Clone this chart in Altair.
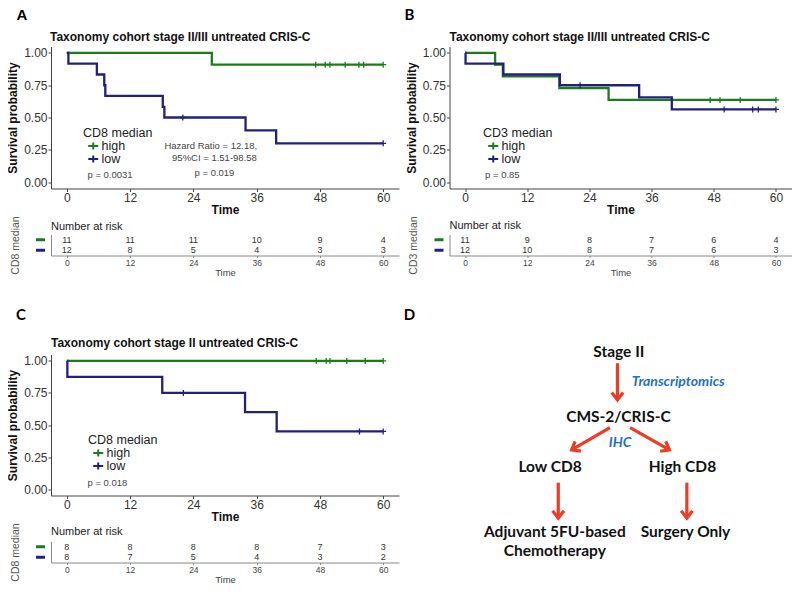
import math
import altair as alt
import pandas as pd

GREEN = "#1c7c1c"
BLUE = "#20207e"
RED = "#EE3B24"
NOTE_BLUE = "#1f6fc5"
GROUPS = ["high", "low"]
RISK_TIMES = [0, 12, 24, 36, 48, 60]
SURV_TICKS = [0, 0.25, 0.5, 0.75, 1]
FONT = "Liberation Sans"
DFONT = "Lato"

# ---------------- Panel A (CD8, stage II/III) ----------------
a_high_t = [0, 27.5]
a_high_s = [1.0, 0.909]
a_high_c = [47.2, 49.0, 49.9, 52.8, 55.4, 56.3, 60]
a_low_t = [0, 0.3, 5.7, 7.1, 7.3, 18.2, 18.5, 33.9, 39.7]
a_low_s = [1.0, 0.917, 0.833, 0.75, 0.667, 0.583, 0.5, 0.4, 0.3]
a_low_c = [22.0, 60]
a_risk_high = [11, 11, 11, 10, 9, 4]
a_risk_low = [12, 8, 5, 4, 3, 3]
a_notes = ["p = 0.0031", "Hazard Ratio = 12.18,", " 95%CI = 1.51-98.58", "p = 0.019"]
a_notes_t = [8.2, 27.3, 28.0, 28.0]
a_notes_s = [0.054, 0.279, 0.186, 0.07]

# ---------------- Panel B (CD3, stage II/III) ----------------
b_high_t = [0, 5.8, 7.3, 18.2, 27.7]
b_high_s = [1.0, 0.909, 0.818, 0.727, 0.636]
b_high_c = [47.3, 49.2, 53.1, 60]
b_low_t = [0, 0.1, 7.4, 18.3, 33.6, 39.9]
b_low_s = [1.0, 0.917, 0.833, 0.75, 0.656, 0.5625]
b_low_c = [22.2, 50.0, 55.5, 56.6, 60]
b_risk_high = [11, 9, 8, 7, 6, 4]
b_risk_low = [12, 10, 8, 7, 6, 3]
b_notes = ["p = 0.85"]
b_notes_t = [7.2]
b_notes_s = [0.054]

# ---------------- Panel C (CD8, stage II) ----------------
c_high_t = [0]
c_high_s = [1.0]
c_high_c = [47.3, 49.2, 49.9, 53.1, 56.6, 60]
c_low_t = [0, 0.1, 18.1, 33.8, 39.8]
c_low_s = [1.0, 0.875, 0.75, 0.6, 0.45]
c_low_c = [22.1, 55.5, 60]
c_risk_high = [8, 8, 8, 8, 7, 3]
c_risk_low = [8, 7, 5, 4, 3, 2]
c_notes = ["p = 0.018"]
c_notes_t = [7.7]
c_notes_s = [0.049]

# ---------------- Panel D (flow chart, layout units 0-100) ----------------
d_nodes = ["Stage II", "CMS-2/CRIS-C", "Low CD8", "High CD8",
           "Adjuvant 5FU-based", "Chemotherapy", "Surgery Only"]
d_nodes_x = [49.5, 49.4, 29.4, 68.1, 30.8, 30.8, 69.0]
d_nodes_y = [-1.8, 44.0, 80.1, 80.1, 125.6, 139.1, 125.6]
d_notes = ["Transcriptomics", "IHC"]
d_notes_x = [53.3, 49.9]
d_notes_y = [19.2, 62.7]
d_notes_align = ["left", "center"]
d_arrow_x1 = [49.1, 46.9, 52.8, 31.8, 69.4]
d_arrow_y1 = [6.2, 51.8, 51.8, 90.9, 90.9]
d_arrow_x2 = [49.1, 35.7, 64.3, 31.8, 69.4]
d_arrow_y2 = [32.2, 67.7, 67.7, 116.1, 116.1]

KM_W_A, KM_W_B, KM_H = 348, 342, 142
RISK_H = 21
PLUS = "M-1,0L1,0M0,-1L0,1"
HEAD = "M-1,-1.3L0,0L1,-1.3"


def step_value(ts, ss, c):
    v = ss[0]
    for t, s in zip(ts, ss):
        if t <= c:
            v = s
    return v


def label_layer(text, x, y, size, weight, font, color="#111", align="left"):
    return alt.Chart(pd.DataFrame({"l": [text]})).mark_text(
        fontSize=size, fontWeight=weight, font=font, color=color, align=align,
        baseline="middle").encode(x=alt.value(x), y=alt.value(y), text="l:N")


def km_chart(curves, notes, notes_t, notes_s, title, title_pos, legend_title, letter,
             letter_font, letter_pos, legend_pos, width, height):
    line_rows, cens_rows = [], []
    for g, (ts, ss, cs) in zip(GROUPS, curves):
        for t, s in zip(ts, ss):
            line_rows.append({"t": t, "s": s, "group": g})
        line_rows.append({"t": 60, "s": ss[-1], "group": g})
        for c in cs:
            cens_rows.append({"t": c, "s": step_value(ts, ss, c), "group": g})
    line_df = pd.DataFrame(line_rows)
    cens_df = pd.DataFrame(cens_rows)
    notes_df = pd.DataFrame({"t": notes_t, "s": notes_s, "label": notes})

    xscale = alt.Scale(domain=[-3, 63], nice=False, zero=False)
    yscale = alt.Scale(domain=[-0.05, 1.05], nice=False, zero=False)
    x = alt.X("t:Q", scale=xscale,
              axis=alt.Axis(values=RISK_TIMES, title="Time", grid=False,
                            labelFontSize=12, labelColor="#333", labelFont=FONT,
                            tickSize=3, tickColor="#444", domainColor="#444",
                            labelPadding=1, labelOverlap=False,
                            titleFontSize=12, titleFontWeight="bold",
                            titleFont=FONT, titleColor="#111", titlePadding=1))
    y = alt.Y("s:Q", scale=yscale,
              axis=alt.Axis(values=SURV_TICKS, format=".2f",
                            title="Survival probability", grid=False,
                            labelFontSize=12, labelColor="#333", labelFont=FONT,
                            tickSize=3, tickColor="#444", domainColor="#444",
                            labelPadding=1, labelOverlap=False,
                            titleFontSize=12, titleFontWeight="bold",
                            titleFont=FONT, titleColor="#111", titlePadding=4))
    color = alt.Color("group:N", scale=alt.Scale(domain=GROUPS, range=[GREEN, BLUE]),
                      legend=alt.Legend(title=legend_title, orient="none",
                                        legendX=legend_pos[0], legendY=legend_pos[1],
                                        symbolType="M-1,0L1,0M0,-0.7L0,0.7",
                                        symbolSize=100, symbolStrokeWidth=2,
                                        symbolOffset=4, labelOffset=2,
                                        titleFontSize=12.5, titleFontWeight="normal",
                                        titleFont=FONT, titleColor="#222",
                                        labelFontSize=12.5, labelFont=FONT,
                                        labelColor="#222", titlePadding=1,
                                        rowPadding=0, clipHeight=12, padding=0))
    lines = alt.Chart(line_df).mark_line(interpolate="step-after", strokeWidth=2.3).encode(
        x=x, y=y, color=color)
    cens = alt.Chart(cens_df).mark_point(shape=PLUS, size=36, filled=False,
                                         strokeWidth=1.3, opacity=1).encode(
        x=x, y=y, color=color)
    txt = alt.Chart(notes_df).mark_text(fontSize=9.5, color="#444", font=FONT).encode(
        x=x, y=y, text="label:N")
    let = label_layer(letter, letter_pos[0], letter_pos[1], 15, "bold", letter_font,
                      "#000", "center")
    ttl = label_layer(title, title_pos[0], title_pos[1], 12, "bold", FONT, "#111")
    return alt.layer(lines, cens, txt, let, ttl).properties(width=width, height=height)


def risk_chart(high, low, row_title, width, title_y):
    rows = []
    for g, vals in zip(GROUPS, [high, low]):
        for t, n in zip(RISK_TIMES, vals):
            rows.append({"t": t, "group": g, "n": n})
    df = pd.DataFrame(rows)
    x = alt.X("t:Q", scale=alt.Scale(domain=[-3, 63], nice=False, zero=False),
              axis=alt.Axis(values=RISK_TIMES, title="Time", grid=False,
                            labelFontSize=8.5, labelColor="#444", labelFont=FONT,
                            tickSize=2, tickColor="#888", domainColor="#888",
                            labelPadding=1, labelOverlap=False,
                            titleFontSize=9.5, titleFontWeight="normal",
                            titleFont=FONT, titleColor="#444", titlePadding=0))
    yscale = alt.Scale(type="point", domain=GROUPS, padding=0.5)
    y = alt.Y("group:N", scale=yscale,
              axis=alt.Axis(labels=False, ticks=False, title=row_title,
                            domainColor="#888", titleFontSize=10.5,
                            titleFontWeight="normal", titleFont=FONT,
                            titleColor="#555", titlePadding=31))
    nums = alt.Chart(df).mark_text(fontSize=9, color="#333", font=FONT).encode(
        x=x, y=y, text="n:Q")
    bars = alt.Chart(pd.DataFrame({"group": GROUPS})).mark_rule(strokeWidth=3).encode(
        x=alt.value(-15), x2=alt.value(-6), y=y,
        color=alt.Color("group:N", scale=alt.Scale(domain=GROUPS, range=[GREEN, BLUE]),
                        legend=None))
    ttl = label_layer("Number at risk", 0, title_y, 11, "normal", FONT, "#222")
    return alt.layer(nums, bars, ttl).properties(width=width, height=RISK_H)


def spacer(width, h):
    return alt.Chart(pd.DataFrame({"v": [0]})).mark_point(opacity=0).encode(
        x=alt.value(0), y=alt.value(0)).properties(width=width, height=h)


def flow_chart(width, height):
    xs = alt.Scale(domain=[0, 100], nice=False, zero=False)
    ys = alt.Scale(domain=[0, 100], nice=False, zero=False, reverse=True)
    px_x = width / 100.0
    px_y = height / 100.0
    nodes = pd.DataFrame({"x": d_nodes_x, "y": d_nodes_y, "label": d_nodes})
    angs = []
    for x1, y1, x2, y2 in zip(d_arrow_x1, d_arrow_y1, d_arrow_x2, d_arrow_y2):
        dx = (x2 - x1) * px_x
        dy = (y2 - y1) * px_y
        angs.append(math.degrees(math.atan2(-dx, dy)) % 360)
    arrows = pd.DataFrame({"x1": d_arrow_x1, "y1": d_arrow_y1,
                           "x2": d_arrow_x2, "y2": d_arrow_y2, "ang": angs})
    node_layer = alt.Chart(nodes).mark_text(fontSize=15.5, fontWeight="bold",
                                            font=DFONT, color="#111").encode(
        x=alt.X("x:Q", scale=xs, axis=None), y=alt.Y("y:Q", scale=ys, axis=None),
        text="label:N")
    note_layers = []
    for lab, nx, ny, al in zip(d_notes, d_notes_x, d_notes_y, d_notes_align):
        note_layers.append(
            alt.Chart(pd.DataFrame({"x": [nx], "y": [ny], "label": [lab]})).mark_text(
                fontSize=14, fontWeight="bold", fontStyle="italic", font=DFONT,
                color=NOTE_BLUE, align=al).encode(
                x=alt.X("x:Q", scale=xs, axis=None), y=alt.Y("y:Q", scale=ys, axis=None),
                text="label:N"))
    shafts = alt.Chart(arrows).mark_rule(color=RED, strokeWidth=3.2).encode(
        x=alt.X("x1:Q", scale=xs, axis=None), y=alt.Y("y1:Q", scale=ys, axis=None),
        x2="x2:Q", y2="y2:Q")
    heads = alt.Chart(arrows).mark_point(shape=HEAD, size=130, filled=False,
                                         color=RED, strokeWidth=3.2, opacity=1).encode(
        x=alt.X("x2:Q", scale=xs, axis=None), y=alt.Y("y2:Q", scale=ys, axis=None),
        angle=alt.Angle("ang:Q", scale=None))
    let = label_layer("D", -40, -39.6, 15, "bold", DFONT, "#000", "center")
    return alt.layer(shafts, heads, node_layer, *note_layers, let).properties(
        width=width, height=height)


kmA = km_chart([(a_high_t, a_high_s, a_high_c), (a_low_t, a_low_s, a_low_c)],
               a_notes, a_notes_t, a_notes_s,
               "Taxonomy cohort stage II/III untreated CRIS-C", (-1, -9.5), "CD8 median",
               "A", FONT, (-29, -31.5), (32, 80), KM_W_A, KM_H)
kmB = km_chart([(b_high_t, b_high_s, b_high_c), (b_low_t, b_low_s, b_low_c)],
               b_notes, b_notes_t, b_notes_s,
               "Taxonomy cohort stage II/III untreated CRIS-C", (0, -9.5), "CD3 median",
               "B", DFONT, (-40, -31.5), (33.5, 80), KM_W_B, KM_H)
kmC = km_chart([(c_high_t, c_high_s, c_high_c), (c_low_t, c_low_s, c_low_c)],
               c_notes, c_notes_t, c_notes_s,
               "Taxonomy cohort stage II untreated CRIS-C", (0, -11.3), "CD8 median",
               "C", DFONT, (-30, -39.6), (37, 79), KM_W_A, 141)
riskA = risk_chart(a_risk_high, a_risk_low, "CD8 median", KM_W_A, -8)
riskB = risk_chart(b_risk_high, b_risk_low, "CD3 median", KM_W_B, -8.3)
riskC = risk_chart(c_risk_high, c_risk_low, "CD8 median", KM_W_A, -9.7)
flow = flow_chart(KM_W_B, 141)

chart = alt.concat(
    kmA, kmB, riskA, riskB, spacer(KM_W_A, 6.6), spacer(KM_W_B, 6.6), kmC, flow, riskC,
    columns=2, spacing={"row": 46, "column": 50.5}, bounds="flush"
).resolve_scale(color="independent").resolve_legend(color="independent").properties(
    autosize=alt.AutoSizeParams(type="none"),
    padding={"left": 43, "top": 38.5, "right": 741, "bottom": 537.5},
    background="white",
).configure(font=FONT).configure_view(stroke="transparent", strokeWidth=0)

chart.save("out.html", embed_options={"renderer": "svg", "actions": False})
